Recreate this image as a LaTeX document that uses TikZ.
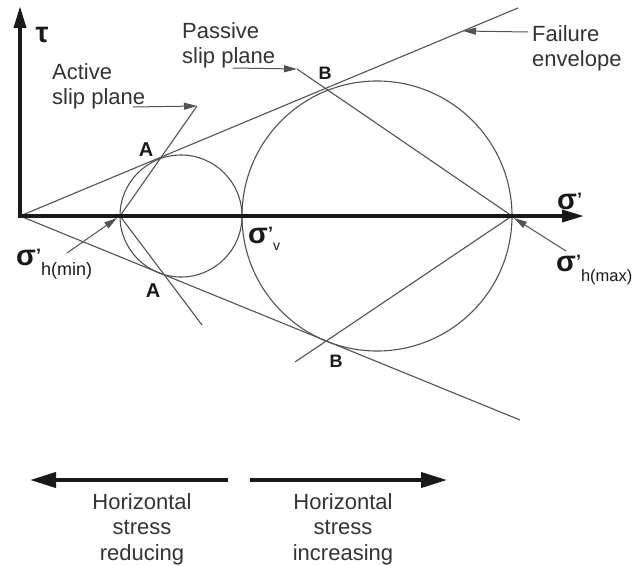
\documentclass[tikz,border=0pt]{standalone}
\usepackage{fontspec}
\setmainfont{Liberation Sans}
\usetikzlibrary{arrows.meta}
\newcommand{\prm}{\raisebox{4pt}{\fontsize{18}{18}\selectfont ’}}
\begin{document}
\begin{tikzpicture}[x=1pt,y=-1pt,
  thinln/.style={line width=1.1pt, draw=black!68},
  axisln/.style={line width=3.5pt, draw=black!90},
  ptr/.style={line width=1pt, draw=black!68, -{Triangle[length=13pt,width=7pt]}},
  bigarr/.style={line width=4pt, draw=black!90, -{Triangle[length=26pt,width=15pt]}},
  txt/.style={font=\fontsize{22}{25.5}\selectfont, text=black!80, inner sep=0pt, align=left},
  ab/.style={font=\fontsize{20}{20}\selectfont\bfseries, text=black!90, inner sep=0pt},
  bb/.style={font=\fontsize{18}{18}\selectfont\bfseries, text=black!90, inner sep=0pt},
  gk/.style={font=\fontsize{29}{29}\selectfont\bfseries, text=black!90, inner sep=0pt}]
\useasboundingbox (0,0) rectangle (634,565);
% key coordinates
\coordinate (O) at (20,216);
\coordinate (Ytop) at (20,6);
\coordinate (Xend) at (584,216);
\coordinate (H1) at (120,216);
\coordinate (V) at (242,216);
\coordinate (H2) at (512,216);
\coordinate (C1) at (181,216);
\coordinate (C2) at (377,216);
\coordinate (Eup) at (518,8);
\coordinate (Elow) at (520,420);
\coordinate (Aup) at (197,106);
\coordinate (Alow) at (202,325);
\coordinate (Pup) at (297,69);
\coordinate (Plow) at (295,362);
\coordinate (Ftip) at (463,31);
% circles
\draw[thinln] (C1) circle[radius=61pt];
\draw[thinln] (C2) circle[radius=135pt];
% failure envelopes
\draw[thinln] (O) -- (Eup);
\draw[thinln] (O) -- (Elow);
% slip planes
\draw[thinln] (H1) -- (Aup);
\draw[thinln] (H1) -- (Alow);
\draw[thinln] (H2) -- (Pup);
\draw[thinln] (H2) -- (Plow);
% axes
\draw[axisln, {Triangle[length=22pt,width=12pt]}-{Triangle[length=22pt,width=12pt]}] (Ytop) -- (O) -- (Xend);
% text labels
\node[txt, anchor=north west] (act) at (52,63) {Active\\slip plane};
\node[txt, anchor=north west] (pas) at (182,22) {Passive\\slip plane};
\node[txt, anchor=north west] (fail) at (532,25) {Failure\\envelope};
\node[txt, align=center, anchor=north] (red) at (142,493) {Horizontal\\stress\\reducing};
\node[txt, align=center, anchor=north] (inc) at (343,493) {Horizontal\\stress\\increasing};
% point labels
\node[ab] (A1) at (146,150) {A};
\node[ab] (A2) at (153,291) {A};
\node[bb] (B1) at (325,73) {B};
\node[bb] (B2) at (336,361) {B};
% greek labels
\node[gk] (tau) at (42,35) {τ};
\node[gk, anchor=base west] (sx) at (557,209) {σ\prm};
\node[gk, anchor=base west] (sv) at (248,243) {σ\prm\raisebox{-7pt}{\fontsize{14}{14}\selectfont\mdseries v}};
\node[gk, anchor=base west] (shmin) at (16,265) {σ\prm\raisebox{-10pt}{\fontsize{18}{18}\selectfont\mdseries h(min)}};
\node[gk, anchor=base west] (shmax) at (556,271) {σ\prm\raisebox{-10pt}{\fontsize{16.5}{16.5}\selectfont\mdseries h(max)}};
% pointer arrows
\coordinate (actT) at (133,107);
\coordinate (pasT) at (233,68);
\coordinate (failT) at (528,32);
\coordinate (hminT) at (67,253);
\coordinate (hminH) at (117,218);
\coordinate (hmaxT) at (566,251);
\coordinate (hmaxH) at (514,218);
\draw[ptr] (actT) -- (Aup);
\draw[ptr] (pasT) -- (Pup);
\draw[ptr] (failT) -- (Ftip);
\draw[ptr] (hminT) -- (hminH);
\draw[ptr] (hmaxT) -- (hmaxH);
% bottom arrows
\coordinate (L1) at (228,480);
\coordinate (L2) at (30,480);
\coordinate (R1) at (250,480);
\coordinate (R2) at (447,480);
\draw[bigarr] (L1) -- (L2);
\draw[bigarr] (R1) -- (R2);
\end{tikzpicture}
\end{document}
